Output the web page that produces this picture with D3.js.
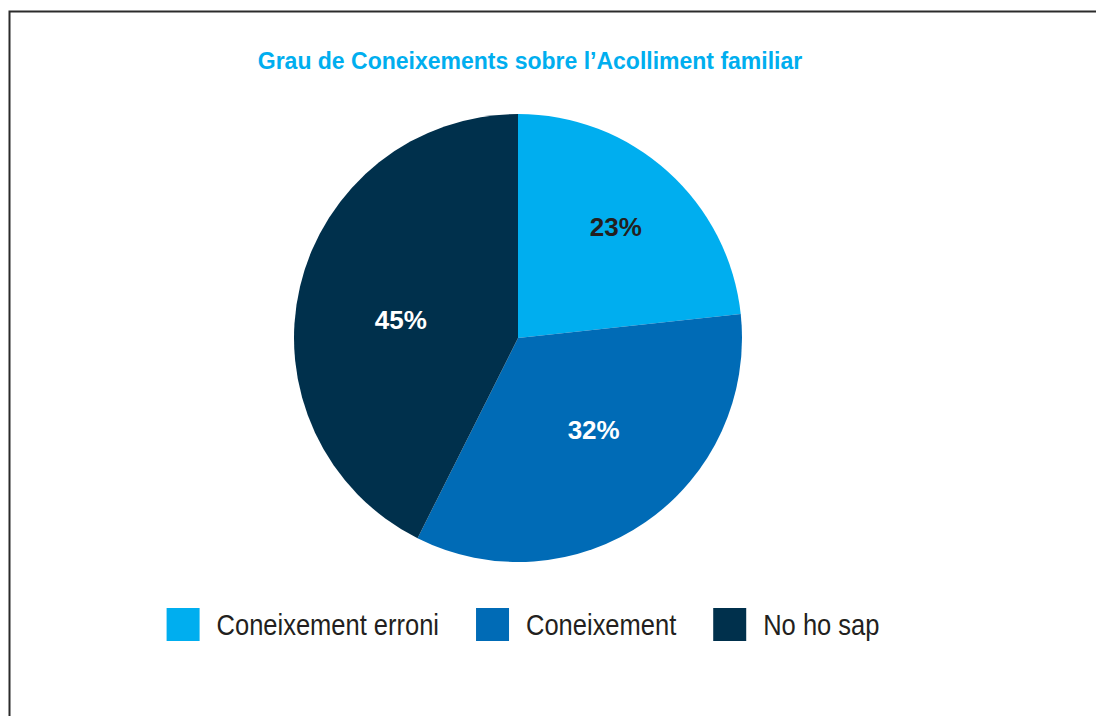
<!DOCTYPE html>
<html>
<head>
<meta charset="utf-8">
<script src="https://cdn.jsdelivr.net/npm/d3@7"></script>
<style>
  body { margin: 0; background: #fff; }
</style>
</head>
<body>
<svg id="chart" width="1096" height="716"></svg>
<script>
// data
const categories = ["Coneixement erroni", "Coneixement", "No ho sap"];
// slice sizes as drawn (the printed labels are rounded differently)
const shares = [23.3, 34.1, 42.6];
const valueLabels = ["23%", "32%", "45%"];
const title = "Grau de Coneixements sobre l\u2019Acolliment familiar";

const colors = ["#00aeef", "#006bb6", "#00304c"];
const labelColors = ["#231f20", "#ffffff", "#ffffff"];
const labelRadius = [0.66, 0.53, 0.53];

const cx = 518, cy = 338, radius = 224;

const svg = d3.select("#chart");

// frame
svg.append("rect")
  .attr("x", 9.5).attr("y", 11.5)
  .attr("width", 1200).attr("height", 800)
  .attr("fill", "none")
  .attr("stroke", "#2b2b2b")
  .attr("stroke-width", 2);

// title
svg.append("text")
  .attr("x", 530).attr("y", 69)
  .attr("text-anchor", "middle")
  .style("font-family", "'Liberation Sans', Arial, sans-serif")
  .style("font-weight", "bold")
  .style("font-size", "23px")
  .attr("fill", "#00aeef")
  .text(title);

// pie
const pie = d3.pie().sort(null).value(d => d);
const arc = d3.arc().innerRadius(0).outerRadius(radius);

const g = svg.append("g").attr("transform", `translate(${cx},${cy})`);

g.selectAll("path")
  .data(pie(shares))
  .join("path")
  .attr("d", arc)
  .attr("fill", (d, i) => colors[i]);

// labels sit at the angles of the printed percentages
const labelArcs = pie(valueLabels.map(v => parseFloat(v)));

g.selectAll("text")
  .data(labelArcs)
  .join("text")
  .attr("transform", (d, i) => {
    const a = (d.startAngle + d.endAngle) / 2;
    const r = radius * labelRadius[i];
    return `translate(${Math.sin(a) * r},${-Math.cos(a) * r})`;
  })
  .attr("text-anchor", "middle")
  .attr("dy", "0.36em")
  .style("font-family", "'Liberation Sans', Arial, sans-serif")
  .style("font-weight", "bold")
  .style("font-size", "26px")
  .attr("fill", (d, i) => labelColors[i])
  .text((d, i) => valueLabels[i]);

// legend (text squeezed horizontally, the original uses a condensed face)
const legend = svg.append("g");
const box = 33, textGap = 17, itemGap = 37, squeeze = 0.85;
let x = 0;
categories.forEach((c, i) => {
  const item = legend.append("g").attr("transform", `translate(${x},0)`);
  item.append("rect")
    .attr("width", box).attr("height", box)
    .attr("fill", colors[i]);
  const t = item.append("text")
    .attr("transform", `translate(${box + textGap},${box / 2}) scale(${squeeze},1)`)
    .attr("dy", "0.35em")
    .style("font-family", "'Liberation Sans', Arial, sans-serif")
    .style("font-size", "30px")
    .attr("fill", "#231f20")
    .text(c);
  x += box + textGap + t.node().getComputedTextLength() * squeeze + itemGap;
});
const legendWidth = x - itemGap;
legend.attr("transform", `translate(${523 - legendWidth / 2},608)`);
</script>
</body>
</html>
